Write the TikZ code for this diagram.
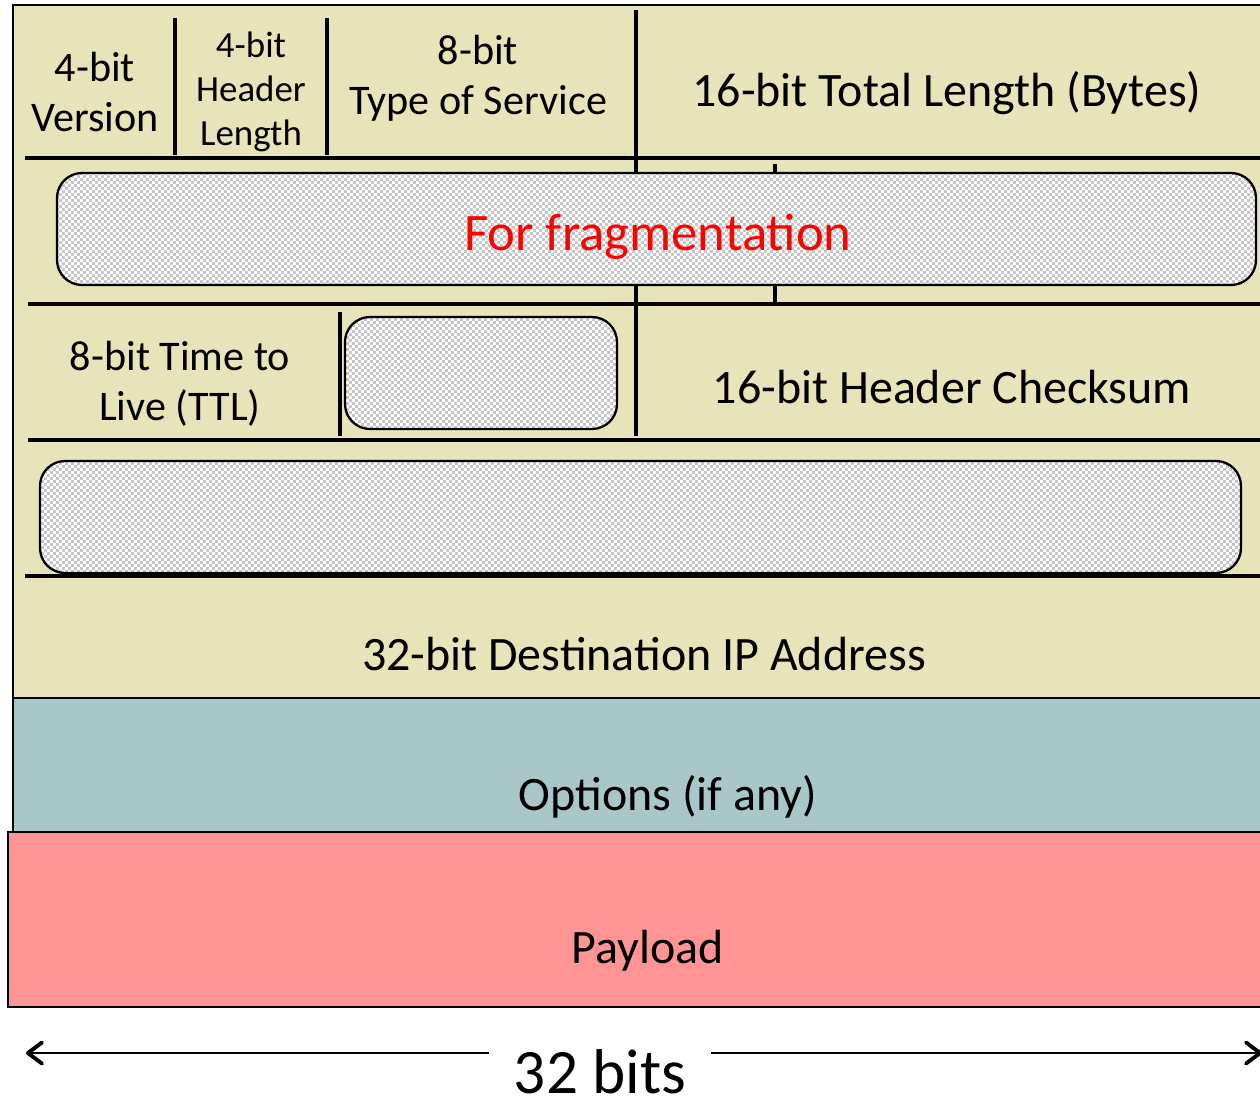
\documentclass[tikz,border=0pt]{standalone}
\usepackage{fontspec}
\setmainfont{Carlito}
\usetikzlibrary{arrows.meta, patterns}

\definecolor{hdryellow}{HTML}{E7E4BA}
\definecolor{optblue}{HTML}{A9C6C8}
\definecolor{loadpink}{HTML}{FF9494}

% small checkerboard for the greyed-out fields
\pgfdeclarepatternformonly{finecheck}{\pgfpointorigin}{\pgfqpoint{3.4pt}{3.4pt}}{\pgfqpoint{3.4pt}{3.4pt}}{%
  \pgfpathrectangle{\pgfpointorigin}{\pgfqpoint{1.7pt}{1.7pt}}%
  \pgfpathrectangle{\pgfqpoint{1.7pt}{1.7pt}}{\pgfqpoint{1.7pt}{1.7pt}}%
  \pgfusepath{fill}}

\begin{document}
\begin{tikzpicture}[x=0.02cm, y=-0.02cm,
  sep/.style={line width=2.8pt},
  outline/.style={draw, line width=1.2pt},
  hidden/.style={draw, line width=1.3pt, rounded corners=0.5cm,
    preaction={fill=white}, pattern=finecheck, pattern color=black!22},
  smallfont/.style={align=center, font=\fontsize{21}{25}\selectfont},
  midfont/.style={align=center, font=\fontsize{24}{28.5}\selectfont},
  bigfont/.style={align=center, font=\fontsize{27.3}{32}\selectfont}]
\clip (0,0) rectangle (1260,1098);

% header, options and payload blocks
\draw[outline, fill=hdryellow] (13,5) rectangle (1300,698);
\draw[outline, fill=optblue] (13,698) rectangle (1300,832);
\draw[outline, line width=1.5pt, fill=loadpink] (8,832) rectangle (1300,1007);

% row separators
\draw[sep] (25,158) -- (1300,158);
\draw[sep] (28,304) -- (1300,304);
\draw[sep] (28,440) -- (1300,440);
\draw[sep] (25,576) -- (1300,576);

% field separators
\draw[sep] (175,18) -- (175,155);
\draw[sep] (327,18) -- (327,155);
\draw[sep] (636,10) -- (636,436);
\draw[sep] (775,164) -- (775,302);
\draw[sep] (340,312) -- (340,436);

% greyed-out fields
\draw[hidden] (57,173) rectangle (1256,285);
\draw[hidden] (345,317) rectangle (617,429);
\draw[hidden] (40,461) rectangle (1241,573);

% field names
\node[midfont] (version) at (95,92) {4-bit\\Version};
\node[smallfont] (hlen) at (251,92) {4-bit\\Header\\Length};
\node[midfont] (tos) at (478,78) {8-bit\\Type of Service};
\node[bigfont] (totlen) at (947,93) {16-bit Total Length (Bytes)};
\node[font=\fontsize{30}{36}\selectfont, text=red] (frag) at (658,237) {For fragmentation};
\node[midfont] (ttl) at (180,384) {8-bit Time to\\Live (TTL)};
\node[bigfont] (csum) at (952,387) {16-bit Header Checksum};
\node[bigfont] (dst) at (644,654) {32-bit Destination IP Address};
\node[bigfont] (opts) at (668,797) {Options (if any)};
\node[bigfont] (load) at (648,951) {Payload};

% word width
\coordinate (lft) at (26,1053);
\coordinate (rgt) at (1262,1053);
\draw[line width=1.1pt, {Straight Barb[length=8pt,width=12pt,line width=2.2pt,round]}-{Straight Barb[length=8pt,width=12pt,line width=2.2pt,round]}] (lft) -- (rgt);
\node[fill=white, inner xsep=14pt, inner ysep=2pt, font=\fontsize{36}{43}\selectfont] (bits) at (600,1072) {32 bits};
\end{tikzpicture}
\end{document}
